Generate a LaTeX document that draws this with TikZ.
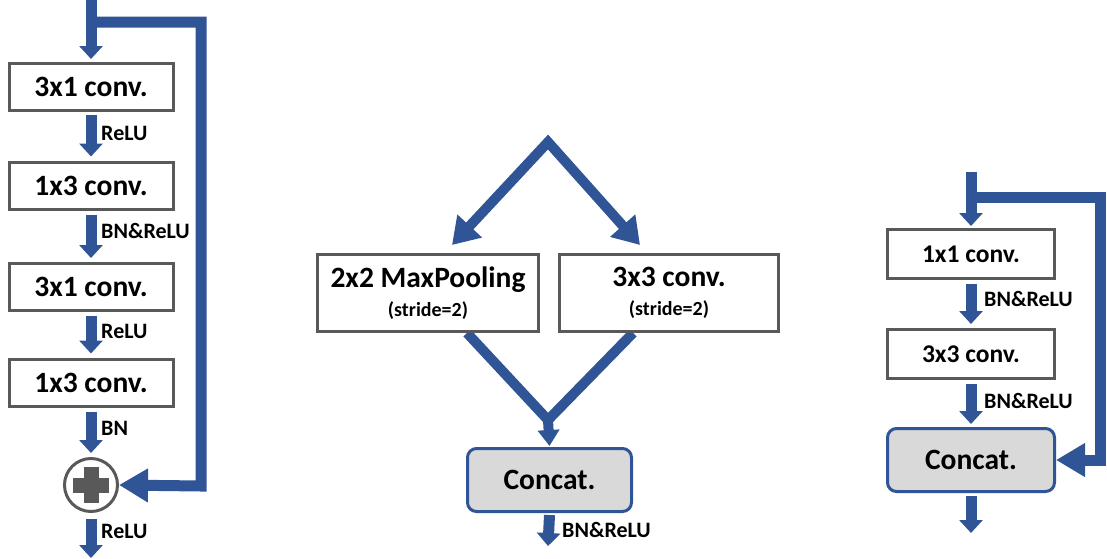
\documentclass[tikz,border=0pt]{standalone}
\usepackage{fontspec}
\setmainfont{Carlito}
\usetikzlibrary{arrows.meta,backgrounds}
\definecolor{arrblue}{HTML}{2F5597}
\definecolor{boxgray}{HTML}{595959}
\definecolor{concatfill}{HTML}{D9D9D9}
\begin{document}
\begin{tikzpicture}[x=1pt,y=-1pt,
 box/.style={draw=boxgray, line width=3pt, fill=white, minimum width=164pt, minimum height=47pt, inner sep=0pt, font=\fontsize{29.5}{31}\selectfont\bfseries},
 wbox/.style={box, minimum width=221pt, minimum height=77pt, align=center},
 rbox/.style={box, minimum width=167pt, minimum height=49pt, font=\fontsize{25.5}{27}\selectfont\bfseries},
 catbox/.style={draw=arrblue, line width=3pt, fill=concatfill, rounded corners=9pt, minimum width=164pt, minimum height=63pt, inner sep=0pt, font=\fontsize{29.5}{31}\selectfont\bfseries},
 lbl/.style={anchor=west, inner sep=0pt, font=\fontsize{22}{24}\selectfont\bfseries},
 sarr/.style={draw=arrblue, line width=11pt, -{Triangle[width=23pt,length=13pt]}},
 marr/.style={draw=arrblue, line width=10pt, -{Triangle[width=21pt,length=16pt]}},
 barr/.style={draw=arrblue, line width=11pt, line join=miter, -{Triangle[width=32pt,length=29pt]}},
 darr/.style={draw=arrblue, line width=10pt, line join=miter, {Triangle[width=32pt,length=26pt]}-{Triangle[width=32pt,length=26pt]}},
 bline/.style={draw=arrblue, line width=10pt, line join=miter},
]
\useasboundingbox (0,0) rectangle (1107,558);

% ---------- left column ----------
\node[box] (b1) at (91,87) {3x1 conv.};
\node[box] (b2) at (91,185.5) {1x3 conv.};
\node[box] (b3) at (91,287) {3x1 conv.};
\node[box] (b4) at (91,382.5) {1x3 conv.};
\node[circle, draw=boxgray, line width=3pt, fill=white, minimum size=53pt, inner sep=0pt] (add) at (91,485) {};
\fill[boxgray] ([xshift=-18pt,yshift=-7.5pt]add.center) rectangle ([xshift=18pt,yshift=7.5pt]add.center);
\fill[boxgray] ([xshift=-7.5pt,yshift=-18pt]add.center) rectangle ([xshift=7.5pt,yshift=18pt]add.center);
\coordinate (in1) at (91,0);
\coordinate (fa) at (91,22);
\coordinate (fb) at (201,22);
\coordinate (fc) at (201,486);
\coordinate (out1) at (91,558);
\node[lbl] at (101,133) {ReLU};
\node[lbl] at (101,231) {BN\&ReLU};
\node[lbl] at (101,331) {ReLU};
\node[lbl] at (101,428) {BN};
\node[lbl] at (101,531) {ReLU};

% ---------- middle ----------
\node[wbox] (mp) at (428,293) {2x2 MaxPooling\\[-2pt]{\fontsize{20}{22}\selectfont (stride=2)}};
\node[wbox, minimum width=219pt] (cv) at (669,293) {3x3 conv.\\[-2pt]{\fontsize{20}{22}\selectfont (stride=2)}};
\node[catbox] (cat1) at (549.5,480) {Concat.};
\coordinate (apex) at (548,142);
\coordinate (j) at (548,420);
\coordinate (out2) at (548,546);
\node[lbl] at (562,530) {BN\&ReLU};

% ---------- right ----------
\node[rbox] (r1) at (971,254) {1x1 conv.};
\node[rbox] (r2) at (971,354) {3x3 conv.};
\node[catbox, minimum width=167pt] (cat2) at (971,460) {Concat.};
\coordinate (in3) at (971,172);
\coordinate (ra) at (971,197);
\coordinate (rb) at (1100,197);
\coordinate (rc) at (1100,460);
\coordinate (out3) at (971,533);
\node[lbl] at (984,299) {BN\&ReLU};
\node[lbl] at (984,401) {BN\&ReLU};

\begin{pgfonlayer}{background}
% left
\draw[sarr] (in1) -- ([yshift=3pt]b1.north);
\draw[sarr] ([yshift=-3pt]b1.south) -- ([yshift=4pt]b2.north);
\draw[sarr] ([yshift=-4pt]b2.south) -- ([yshift=4pt]b3.north);
\draw[sarr] ([yshift=-4pt]b3.south) -- ([yshift=4pt]b4.north);
\draw[sarr] ([yshift=-4pt]b4.south) -- ([yshift=4pt]add.north);
\draw[barr] (fa) -- (fb) -- (fc) -- (add.east);
\draw[sarr] ([yshift=-6pt]add.south) -- (out1);
% middle
\draw[darr] ([xshift=24pt,yshift=8pt]mp.north) -- (apex) -- ([xshift=-29pt,yshift=8pt]cv.north);
\draw[bline] ([xshift=39pt]mp.south) -- (j) -- ([xshift=-36pt]cv.south);
\draw[marr] (j) -- ([yshift=1pt]cat1.north);
\draw[sarr] ([yshift=-2pt]cat1.south) -- (out2);
% right
\draw[sarr] (in3) -- ([yshift=2pt]r1.north);
\draw[sarr] ([yshift=-4pt]r1.south) -- ([yshift=4pt]r2.north);
\draw[sarr] ([yshift=-4pt]r2.south) -- ([yshift=3pt]cat2.north);
\draw[barr] (ra) -- (rb) -- (rc) -- (cat2.east);
\draw[sarr] ([yshift=-3pt]cat2.south) -- (out3);
\end{pgfonlayer}
\end{tikzpicture}
\end{document}
